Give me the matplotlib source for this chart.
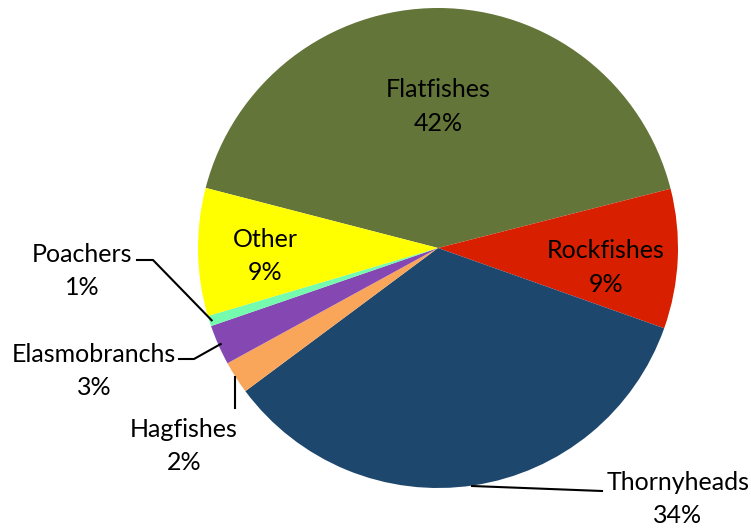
import numpy as np
import matplotlib
matplotlib.use("Agg")
import matplotlib.pyplot as plt

categories = ["Flatfishes", "Rockfishes", "Thornyheads", "Hagfishes",
              "Elasmobranchs", "Poachers", "Other"]
shares = [42.0, 9.4, 34.4, 2.2, 2.7, 0.7, 8.6]
colors = ["#637538", "#D81F00", "#1E476E", "#F9A65A", "#8548B2", "#74FBAE", "#FFFF00"]

plt.rcParams["font.family"] = ["Lato", "DejaVu Sans"]
FS = 18
LS = 1.55

fig = plt.figure(figsize=(7.51, 5.29), dpi=100)
ax = fig.add_axes([0, 0, 1, 1])

start = 165.5
wedges, _ = ax.pie(shares, colors=colors, startangle=start, counterclock=False,
                   radius=1.0, center=(0, 0), frame=True,
                   wedgeprops=dict(linewidth=0))
ax.set_xlim(-438 / 240, (751 - 438) / 240)
ax.set_ylim((248 - 529) / 240, 248 / 240)
ax.set_aspect("auto")
ax.axis("off")


def mid_angle(w):
    return np.deg2rad((w.theta1 + w.theta2) / 2)


def label(i):
    return f"{categories[i]}\n{shares[i]:.0f}%"


def px(x, y):
    return (x - 438) / 240, (248 - y) / 240


# labels inside the larger wedges: (radius, vertical nudge)
inside = {0: (0.60, -0.01), 1: (0.70, -0.05), 6: (0.72, -0.02)}
for i, (r, dy) in inside.items():
    a = mid_angle(wedges[i])
    ax.text(r * np.cos(a), r * np.sin(a) + dy, label(i), ha="center", va="center",
            fontsize=FS, linespacing=LS, color="black")


def edge(i, r=0.99):
    a = mid_angle(wedges[i])
    return r * np.cos(a), r * np.sin(a)


lw = 1.5
# Poachers
e = edge(5)
k = px(153, 260)
s = px(137, 260)
ax.plot([s[0], k[0], e[0]], [s[1], k[1], e[1]], color="black", lw=lw)
tx, ty = px(82, 271)
ax.text(tx, ty, label(5), ha="center", va="center", fontsize=FS, linespacing=LS)

# Elasmobranchs
e = edge(4)
k = px(194, 359)
s = px(179, 359)
ax.plot([s[0], k[0], e[0]], [s[1], k[1], e[1]], color="black", lw=lw)
tx, ty = px(94, 371)
ax.text(tx, ty, label(4), ha="center", va="center", fontsize=FS, linespacing=LS)

# Hagfishes
s = px(235, 408)
ax.plot([s[0], s[0]], [s[1], px(235, 377)[1]], color="black", lw=lw)
tx, ty = px(184, 446)
ax.text(tx, ty, label(3), ha="center", va="center", fontsize=FS, linespacing=LS)

# Thornyheads
s = px(602, 491)
t0 = px(472, 486)
ax.plot([t0[0], s[0]], [t0[1], s[1]], color="black", lw=lw)
tx, ty = px(678, 499)
ax.text(tx, ty, label(2), ha="center", va="center", fontsize=FS, linespacing=LS)

fig.savefig("out.png", dpi=100, facecolor="white")
